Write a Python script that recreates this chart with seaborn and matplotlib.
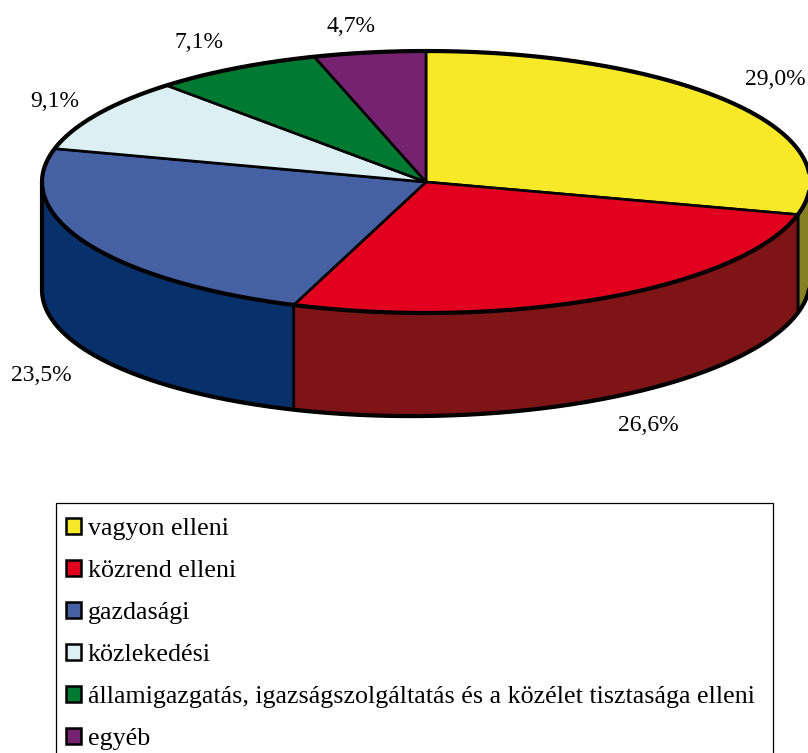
import numpy as np
import matplotlib
matplotlib.use("Agg")
import matplotlib.pyplot as plt
from matplotlib.patches import Patch, Polygon, Rectangle
import seaborn as sns

categories = ["vagyon elleni", "közrend elleni", "gazdasági", "közlekedési",
              "államigazgatás, igazságszolgáltatás és a közélet tisztasága elleni", "egyéb"]
values = [29.0, 26.6, 23.5, 9.1, 7.1, 4.7]
top_colors = ["#F7E928", "#E2001F", "#4560A3", "#DCEFF3", "#007A33", "#752270"]
side_colors = ["#868024", "#7E1416", "#08306B", "#6E777A", "#003D19", "#3A1138"]
label_pos = [(775, 79), (648, 425), (41, 375), (55, 101), (199, 42), (351, 26)]

sns.set_theme(style="white")
plt.rcParams["font.family"] = ["Liberation Serif", "DejaVu Serif"]
top_pal = sns.color_palette(top_colors)
side_pal = sns.color_palette(side_colors)

cx, cy, rx, ry, depth, tilt = 426, 182, 384, 131, 103, 5


def rim(t0, t1, lower=False):
    t = np.radians(np.linspace(t0, t1, max(int(abs(t1 - t0)) * 3, 2)))
    y = cy - ry * np.cos(t)
    if lower:
        # bottom edge sits a bit lower on the left in the original
        y = y + depth - tilt * np.sin(t)
    return np.column_stack([cx + rx * np.sin(t), y])


fig, ax = plt.subplots(figsize=(8.08, 7.53), dpi=100)
fig.subplots_adjust(0, 0, 1, 1)
ax.set_xlim(0, 808)
ax.set_ylim(753, 0)
ax.axis("off")

edges = np.concatenate([[0], np.cumsum(values)]) * 3.6

# side wall, only the front half shows
for i in range(len(values)):
    a, b = max(edges[i], 90), min(edges[i + 1], 270)
    if a < b:
        pts = np.vstack([rim(a, b), rim(a, b, lower=True)[::-1]])
        ax.add_patch(Polygon(pts, closed=True, fc=side_pal[i], ec="black", lw=2.0, joinstyle="round"))

# top face
for i in range(len(values)):
    pts = np.vstack([[cx, cy], rim(edges[i], edges[i + 1])])
    ax.add_patch(Polygon(pts, closed=True, fc=top_pal[i], ec="black", lw=1.9, joinstyle="round"))
ax.plot(*rim(0, 360).T, color="black", lw=3.0)
ax.plot(*rim(90, 270, lower=True).T, color="black", lw=3.0)
ax.plot(*np.vstack([rim(270, 270), rim(270, 270, lower=True)]).T, color="black", lw=3.0)

for v, (x, y) in zip(values, label_pos):
    ax.text(x, y, f"{v:.1f}%".replace(".", ","), ha="center", va="center", fontsize=17, color="black")

# legend box runs off the bottom of the picture
ax.add_patch(Rectangle((56, 503), 717, 270, fc="white", ec="black", lw=0.9))
handles = [Patch(fc=c, ec="black", lw=1.8) for c in top_pal]
leg = ax.legend(handles, categories, loc="upper left",
                bbox_to_anchor=(56 / 808, 1 - 508 / 753),
                bbox_transform=fig.transFigure, fontsize=18.7, frameon=False,
                borderaxespad=0, borderpad=0.40,
                labelspacing=0.766, handlelength=0.55, handleheight=0.55, handletextpad=0.27)
for t in leg.get_texts():
    t.set_color("black")

plt.savefig("out.png", dpi=100)
